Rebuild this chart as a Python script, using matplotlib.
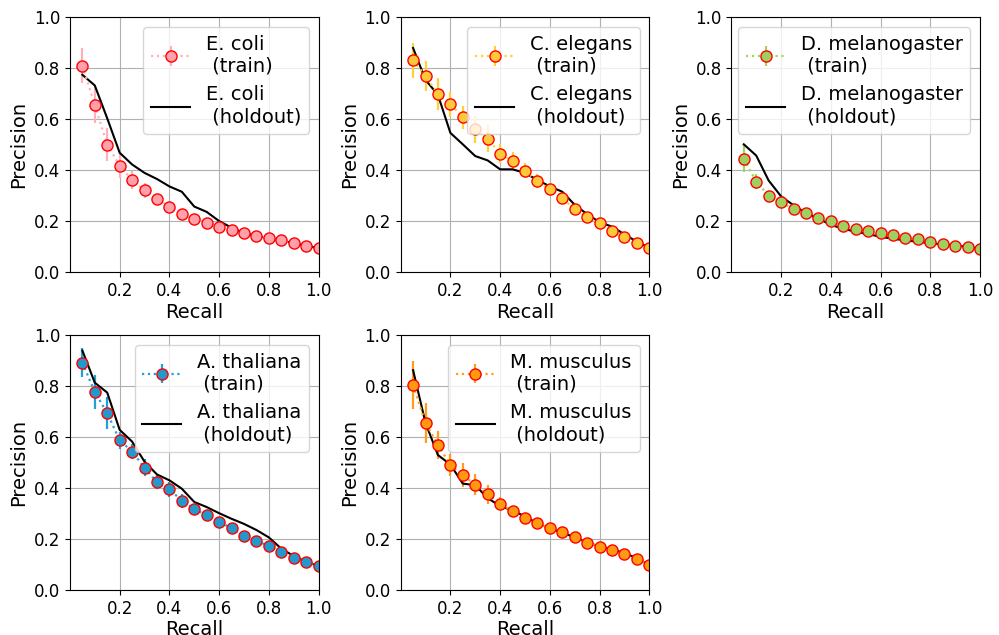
import numpy as np
import matplotlib
matplotlib.use("Agg")
import matplotlib.pyplot as plt

recall = [0.05, 0.10, 0.15, 0.20, 0.25, 0.30, 0.35, 0.40, 0.45, 0.50,
          0.55, 0.60, 0.65, 0.70, 0.75, 0.80, 0.85, 0.90, 0.95, 1.00]

species = ['E. coli', 'C. elegans', 'D. melanogaster', 'A. thaliana', 'M. musculus']

ecoli_train = [0.81, 0.655, 0.50, 0.417, 0.361, 0.320, 0.286, 0.257, 0.227, 0.210,
               0.194, 0.178, 0.165, 0.152, 0.142, 0.133, 0.124, 0.113, 0.104, 0.094]
ecoli_err = [0.067, 0.07, 0.064, 0.05, 0.035, 0.028, 0.02, 0.016, 0.014, 0.012,
             0.011, 0.01, 0.009, 0.008, 0.008, 0.007, 0.007, 0.006, 0.006, 0.005]
ecoli_hold = [0.774, 0.732, 0.603, 0.468, 0.422, 0.389, 0.365, 0.336, 0.315, 0.257,
              0.236, 0.200, 0.174, 0.153, 0.141, 0.133, 0.124, 0.113, 0.104, 0.093]

celegans_train = [0.831, 0.769, 0.697, 0.658, 0.608, 0.560, 0.523, 0.465, 0.435, 0.397,
                  0.357, 0.324, 0.289, 0.249, 0.214, 0.191, 0.160, 0.136, 0.113, 0.095]
celegans_err = [0.068, 0.059, 0.063, 0.049, 0.045, 0.053, 0.053, 0.038, 0.034, 0.03,
                0.027, 0.02, 0.018, 0.015, 0.013, 0.012, 0.011, 0.01, 0.009, 0.008]
celegans_hold = [0.879, 0.754, 0.695, 0.546, 0.501, 0.455, 0.438, 0.403, 0.403, 0.389,
                 0.361, 0.336, 0.315, 0.264, 0.227, 0.196, 0.178, 0.148, 0.119, 0.095]

dmel_train = [0.444, 0.355, 0.299, 0.273, 0.247, 0.231, 0.212, 0.200, 0.182, 0.169,
              0.161, 0.152, 0.144, 0.134, 0.128, 0.119, 0.109, 0.103, 0.099, 0.091]
dmel_err = [0.053, 0.031, 0.015, 0.012, 0.01, 0.009, 0.008, 0.007, 0.007, 0.006,
            0.006, 0.005, 0.005, 0.005, 0.004, 0.004, 0.004, 0.004, 0.003, 0.003]
dmel_hold = [0.501, 0.457, 0.359, 0.297, 0.262, 0.231, 0.210, 0.185, 0.170, 0.158,
             0.149, 0.138, 0.131, 0.124, 0.119, 0.113, 0.109, 0.104, 0.099, 0.091]

athal_train = [0.892, 0.776, 0.694, 0.587, 0.543, 0.479, 0.422, 0.395, 0.350, 0.318,
               0.292, 0.267, 0.242, 0.213, 0.193, 0.172, 0.150, 0.127, 0.110, 0.094]
athal_err = [0.057, 0.067, 0.061, 0.034, 0.03, 0.033, 0.028, 0.03, 0.028, 0.02,
             0.016, 0.014, 0.012, 0.011, 0.01, 0.009, 0.008, 0.007, 0.006, 0.005]
athal_hold = [0.939, 0.813, 0.774, 0.628, 0.582, 0.503, 0.453, 0.430, 0.397, 0.345,
              0.325, 0.301, 0.279, 0.259, 0.235, 0.206, 0.162, 0.133, 0.110, 0.094]

mmus_train = [0.804, 0.655, 0.569, 0.490, 0.450, 0.413, 0.376, 0.339, 0.309, 0.281,
              0.261, 0.242, 0.226, 0.207, 0.186, 0.170, 0.156, 0.140, 0.120, 0.098]
mmus_err = [0.094, 0.079, 0.055, 0.042, 0.046, 0.042, 0.037, 0.027, 0.02, 0.016,
            0.014, 0.012, 0.011, 0.01, 0.009, 0.008, 0.008, 0.007, 0.006, 0.005]
mmus_hold = [0.862, 0.655, 0.529, 0.492, 0.417, 0.411, 0.360, 0.329, 0.312, 0.288,
             0.261, 0.242, 0.224, 0.207, 0.186, 0.170, 0.159, 0.145, 0.124, 0.098]

train = [ecoli_train, celegans_train, dmel_train, athal_train, mmus_train]
errs = [ecoli_err, celegans_err, dmel_err, athal_err, mmus_err]
hold = [ecoli_hold, celegans_hold, dmel_hold, athal_hold, mmus_hold]

line_colors = ['#ffb0ba', '#ffd233', '#a2d65a', '#1fa0d8', '#ff9d1a']
face_colors = ['#ffa0aa', '#ffc83a', '#9fcf5f', '#2299cc', '#ff9a10']

fig, axes = plt.subplots(2, 3, figsize=(9.99, 6.35), dpi=100)
fig.subplots_adjust(left=0.070, right=0.981, top=0.973, bottom=0.071,
                    wspace=0.33, hspace=0.247)
axes = axes.flatten()

for i, name in enumerate(species):
    ax = axes[i]
    eb = ax.errorbar(recall, train[i], yerr=errs[i], fmt='o:', color=line_colors[i],
                     mfc=face_colors[i], mec='red', ms=8, lw=1.6, elinewidth=1.6)
    ln, = ax.plot(recall, hold[i], color='black', lw=1.5)
    ax.set_xlim(0, 1.0)
    ax.set_ylim(0, 1.0)
    ax.set_xticks([0.2, 0.4, 0.6, 0.8, 1.0])
    ax.set_yticks([0.0, 0.2, 0.4, 0.6, 0.8, 1.0])
    ax.tick_params(labelsize=12)
    ax.grid(True)
    ax.set_xlabel('Recall', fontsize=14, labelpad=2)
    ax.set_ylabel('Precision', fontsize=14)
    ax.legend([eb, ln], [name + '\n (train)', name + '\n (holdout)'],
              loc='upper right', fontsize=14)

axes[5].remove()

plt.savefig('out.png', dpi=100)
